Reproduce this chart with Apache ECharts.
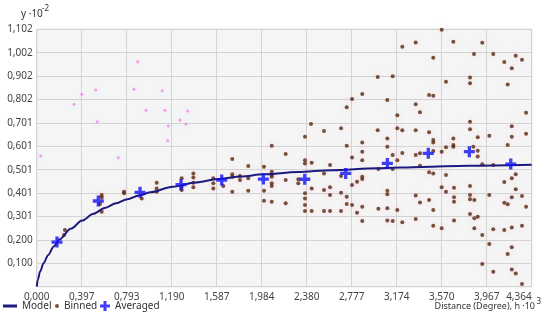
<!DOCTYPE html>
<html><head><meta charset="utf-8">
<script src="https://cdn.jsdelivr.net/npm/echarts@6/dist/echarts.min.js"></script>
<style>html,body{margin:0;padding:0;background:#fff}#c{width:550px;height:320px}</style>
</head><body><div id="c"></div>
<script>
const xStep = 0.3967, yStep = 0.1002;
const xMax = xStep * 11, yMax = yStep * 11;
const modelCurve = [[0,0],[0.01,0.03],[0.03,0.065],[0.06,0.10],[0.1,0.135],[0.15,0.172],[0.2,0.202],[0.3,0.248],[0.4,0.283],[0.5,0.312],[0.6,0.337],[0.7,0.357],[0.8,0.375],[0.9,0.39],[1.0,0.404],[1.2,0.428],[1.4,0.446],[1.6,0.461],[1.8,0.472],[2.0,0.481],[2.3,0.491],[2.6,0.499],[3.0,0.507],[3.4,0.513],[3.8,0.518],[4.364,0.522]];
const averaged = [[0.179,0.191],[0.543,0.367],[0.911,0.404],[1.272,0.437],[1.631,0.457],[1.998,0.461],[2.363,0.460],[2.724,0.485],[3.091,0.528],[3.452,0.571],[3.814,0.578],[4.179,0.525]];
const binned = [[0.249,0.243],[0.241,0.221],[0.573,0.393],[0.573,0.383],[0.558,0.354],[0.573,0.321],[0.770,0.407],[0.770,0.400],[0.926,0.378],[1.058,0.445],[1.058,0.421],[1.058,0.407],[1.278,0.464],[1.278,0.428],[1.278,0.414],[1.381,0.485],[1.381,0.468],[1.381,0.445],[1.381,0.426],
[1.557,0.464],[1.557,0.443],[1.557,0.421],[1.645,0.431],[1.724,0.547],[1.724,0.482],[1.724,0.471],[1.724,0.407],[1.792,0.474],[1.792,0.457],[1.865,0.517],[1.865,0.464],[1.865,0.411],[2.004,0.514],[2.004,0.411],[2.004,0.368],[2.072,0.492],[2.072,0.478],[2.072,0.471],[2.072,0.443],[2.072,0.431],[2.072,0.364],[2.195,0.568],[2.195,0.457],[2.195,0.357],[2.306,0.460],[2.306,0.443],[2.365,0.542],[2.365,0.528],[2.424,0.531],[2.424,0.421],[2.365,0.400],[2.365,0.378],[2.365,0.350],[2.365,0.324],[2.424,0.324],[2.418,0.697],[2.365,0.642],[2.072,0.604],
[3.223,1.027],[3.341,1.046],[3.006,0.898],[3.138,0.901],[2.870,0.825],[2.780,0.804],[3.091,0.799],[2.733,0.768],[3.341,0.781],[3.379,0.747],[3.179,0.734],[2.533,0.667],[2.683,0.678],[3.006,0.670],[3.179,0.678],[3.223,0.670],[3.341,0.670],[3.091,0.635],[2.733,0.604],[2.870,0.618],[3.091,0.599],[2.870,0.578],[3.138,0.564],[3.223,0.572],[3.341,0.564],[3.379,0.571],[2.780,0.553],[2.870,0.541],
[2.586,0.521],[2.533,0.485],[2.683,0.474],[2.780,0.435],[2.824,0.449],[2.870,0.471],[2.870,0.461],[2.533,0.414],[2.586,0.426],[2.586,0.393],[2.683,0.402],[2.733,0.385],[2.733,0.354],[2.780,0.350],[2.870,0.342],[2.824,0.317],[2.533,0.324],[2.586,0.324],[2.683,0.324],[2.870,0.281],[3.012,0.334],[3.012,0.504],[3.091,0.411],[3.091,0.396],[3.091,0.336],[3.091,0.283],[3.138,0.281],[3.179,0.328],[3.223,0.276],[3.138,0.504],[3.179,0.542],[3.341,0.390],[3.379,0.361],[3.341,0.290],[3.379,0.518],
[3.570,1.100],[3.673,1.049],[3.928,1.045],[3.496,0.980],[3.855,0.996],[4.025,0.996],[4.223,0.989],[4.122,0.962],[4.278,0.972],[4.188,0.935],[3.820,0.896],[3.820,0.871],[3.608,0.878],[4.152,0.866],[3.459,0.821],[3.496,0.818],[4.314,0.745],[3.820,0.706],[3.820,0.674],[4.188,0.687],[3.459,0.661],[3.990,0.646],[4.188,0.642],[4.314,0.655],[3.888,0.640],[3.673,0.635],[3.496,0.628],[3.496,0.618],[3.673,0.607],[3.673,0.599],[3.608,0.597],[4.152,0.607],[3.570,0.578],[3.496,0.581],[3.849,0.599],[3.888,0.582],[3.888,0.557],
[3.928,0.524],[4.025,0.521],[3.459,0.490],[3.496,0.485],[3.608,0.478],[4.223,0.482],[4.188,0.464],[4.122,0.448],[3.570,0.426],[3.820,0.431],[3.679,0.424],[3.608,0.407],[4.223,0.417],[3.820,0.393],[3.820,0.374],[3.858,0.371],[3.679,0.383],[3.679,0.364],[3.990,0.393],[4.278,0.388],[4.188,0.383],[3.459,0.371],[4.122,0.360],[4.152,0.353],[4.314,0.342],[3.496,0.328],[3.820,0.311],[3.858,0.293],[3.888,0.300],[3.679,0.283],[3.496,0.261],[3.570,0.250],[3.858,0.250],[4.025,0.246],[4.122,0.243],[4.188,0.254],[4.278,0.261],[3.928,0.221],[3.990,0.183],[4.188,0.169],[4.152,0.140],[3.928,0.097],[4.025,0.064],[4.188,0.074],[4.223,0.057],[4.278,0.012]];
const faintPoints = [[0.397,0.824],[0.520,0.842],[0.890,0.963],[0.858,0.845],[1.107,0.839],[0.964,0.756],[1.131,0.756],[1.331,0.752],[0.534,0.706],[1.160,0.688],[1.155,0.625],[1.263,0.714],[1.316,0.697],[0.719,0.552],[0.035,0.560],[0.329,0.781]];
const legendNames = ['Model','Binned','Averaged'];
const yAxisTitle = 'y ·10', yAxisExp = '-2';
const xAxisTitle = 'Distance (Degree), h ·10', xAxisExp = '3';

const FONT = 'Noto Sans';
const plus = 'path://M3.5,0H6.5V3.5H10V6.5H6.5V10H3.5V6.5H0V3.5H3.5Z';
const fmt = v => v.toFixed(3).replace('.', ',');
const chart = echarts.init(document.getElementById('c'), null, {renderer:'canvas'});
const legendText = {fontFamily: FONT, fontSize: 10, color: '#333'};
chart.setOption({
  animation: false,
  backgroundColor: '#fff',
  grid: {left: 36.7, right: 18.3, top: 29.3, bottom: 33.3, show: true, backgroundColor: '#f5f5f5', borderColor: '#bdbdbd', borderWidth: 1},
  xAxis: {type: 'value', min: 0, max: xMax, interval: xStep,
    axisLine: {show: false}, axisTick: {show: false},
    splitLine: {show: true, lineStyle: {color: '#d4d4d4', width: 1}},
    axisLabel: {formatter: v => fmt(v), fontFamily: FONT, fontSize: 10, color: '#444', margin: 5, alignMaxLabel: 'right', showMaxLabel: true}},
  yAxis: {type: 'value', min: 0, max: yMax, interval: yStep,
    axisLine: {show: false}, axisTick: {show: false},
    splitLine: {show: true, lineStyle: {color: '#d4d4d4', width: 1}},
    axisLabel: {formatter: v => v === 0 ? '' : fmt(v), fontFamily: FONT, fontSize: 10, color: '#444', margin: 4, showMaxLabel: true}},
  legend: [
    {data: [{name: legendNames[0], icon: 'path://M0,4H14V7H0Z'}], left: 3, top: 301, itemWidth: 14, itemHeight: 10, textStyle: legendText, padding: 0},
    {data: [{name: legendNames[1], icon: 'circle'}], left: 55, top: 301, itemWidth: 4, itemHeight: 4, textStyle: legendText, padding: 0},
    {data: [{name: legendNames[2], icon: plus}], left: 100, top: 301, itemWidth: 10, itemHeight: 10, textStyle: legendText, padding: 0}
  ],
  graphic: [
    {type: 'text', left: 21, top: 9, style: {text: yAxisTitle, font: '10px "Noto Sans"', fill: '#333'}},
    {type: 'text', left: 42, top: 5, style: {text: yAxisExp, font: '8px "Noto Sans"', fill: '#333'}},
    {type: 'text', right: 15, top: 302, style: {text: xAxisTitle, font: '9px "Noto Sans"', fill: '#333'}},
    {type: 'text', right: 9, top: 298, style: {text: xAxisExp, font: '8px "Noto Sans"', fill: '#333'}}
  ],
  series: [
    {name: 'faint', type: 'scatter', data: faintPoints, symbolSize: 3, clip: false, silent: true, z: 1,
      itemStyle: {color: '#ff7fe8', opacity: 0.8, shadowBlur: 6, shadowColor: 'rgba(140,235,255,0.7)'}},
    {name: legendNames[1], type: 'scatter', data: binned, symbolSize: 4, z: 2,
      itemStyle: {color: '#55280f', shadowBlur: 6, shadowColor: 'rgba(255,150,180,0.45)'}},
    {name: legendNames[0], type: 'line', data: modelCurve, showSymbol: false, symbol: 'none', smooth: 0.3, smoothMonotone: 'x', z: 3,
      lineStyle: {color: '#1c1a7e', width: 2}, itemStyle: {color: '#1c1a7e'}},
    {name: legendNames[2], type: 'scatter', data: averaged, symbol: plus, symbolSize: 11, z: 4,
      itemStyle: {color: '#1010f5'}}
  ]
});
</script></body></html>
